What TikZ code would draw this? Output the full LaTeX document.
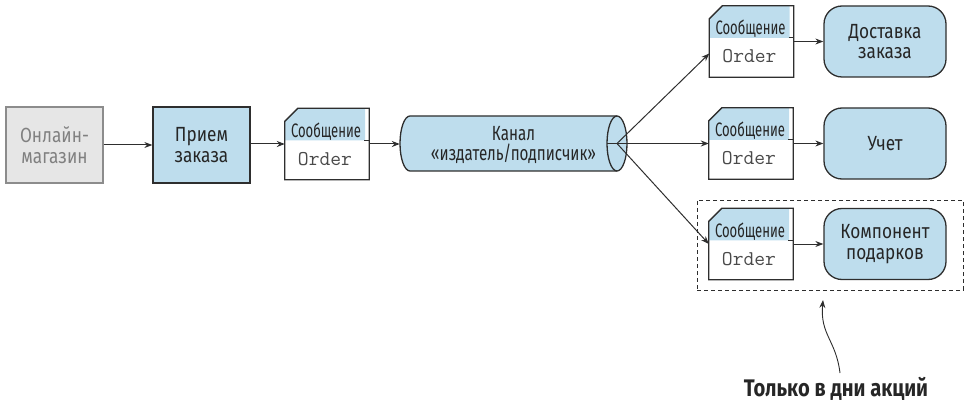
\documentclass[tikz,border=0pt]{standalone}
\usepackage{fontspec}
\setmainfont{Fira Sans}[FakeStretch=0.84]
\newfontfamily\hdrfont{Fira Sans}[FakeStretch=0.67]
\newfontfamily\chanfont{Fira Sans}[FakeStretch=0.74]
\usetikzlibrary{calc,arrows.meta}

\definecolor{boxblue}{HTML}{BEDDED}
\definecolor{edge}{HTML}{2E2E2E}
\definecolor{ink}{HTML}{262626}
\definecolor{shopfill}{HTML}{E6E6E6}
\definecolor{shopedge}{HTML}{8C8C8C}
\definecolor{shoptext}{HTML}{808080}
\definecolor{monotext}{HTML}{4A4A4A}

\tikzset{
  box/.style={draw=edge, line width=1.3pt, fill=boxblue, minimum width=97pt,
    minimum height=76pt, align=center, inner sep=0pt, text=ink,
    font=\fontsize{20.5}{20.5}\selectfont},
  shopbox/.style={box, draw=shopedge, fill=shopfill, text=shoptext},
  svc/.style={box, rounded corners=18pt, minimum width=122pt, minimum height=71pt},
  msgframe/.style={minimum width=84pt, minimum height=71pt, inner sep=0pt},
  hdrtext/.style={inner sep=0pt, anchor=base, text=ink,
    font=\hdrfont\fontsize{19.5}{19.5}\selectfont},
  monotxt/.style={inner sep=0pt, anchor=base, text=monotext,
    font=\ttfamily\fontsize{21}{21}\selectfont},
  flow/.style={draw=edge, line width=1pt, -{Stealth[length=8pt,width=6pt]}},
  outline/.style={draw=edge, line width=1.3pt},
  promo/.style={draw=edge, line width=1pt, dash pattern=on 4pt off 3pt,
    minimum width=266pt, minimum height=90pt, inner sep=0pt},
}

% a message: frame with clipped corner, blue header and body text
\newcommand\msgbox[2]{%
  \node[msgframe] (#1) at (#2) {};
  \fill[boxblue] ($(#1.north west)+(0,13)$) -- ($(#1.north west)+(13,0)$)
    -- ($(#1.north east)+(-4,0)$) -- ($(#1.north east)+(-4,32)$)
    -- ($(#1.north west)+(0,32)$) -- cycle;
  \draw[outline] ($(#1.north west)+(0,13)$) -- ($(#1.north west)+(13,0)$)
    -- (#1.north east) -- (#1.south east) -- (#1.south west) -- cycle;
  \draw[edge, line width=0.8pt] ($(#1.north east)+(-5,32)$) -- ($(#1.north east)+(0,32)$);
  \node[hdrtext] at ($(#1.north)+(-1,29)$) {Сообщение};
  \node[monotxt] at ($(#1.north)+(-2,57)$) {Order};
}

\begin{document}
\begin{tikzpicture}[x=1pt, y=-1pt]
  \useasboundingbox (0,0) rectangle (964,401);

  % left chain
  \node[shopbox] (shop) at (54.5,145) {Онлайн-\\магазин};
  \node[box] (take) at (201.5,145) {Прием\\заказа};
  \msgbox{m1}{327,144}

  % publish/subscribe channel drawn as a cylinder
  \fill[boxblue] (410,116) -- (617,116) arc[start angle=-90, end angle=90, x radius=10, y radius=27.5]
    -- (410,171) arc[start angle=90, end angle=270, x radius=10, y radius=27.5] -- cycle;
  \draw[outline] (410,116) -- (617,116)
    (617,171) -- (410,171) arc[start angle=90, end angle=270, x radius=10, y radius=27.5];
  \draw[outline] (617,143.5) ellipse[x radius=10, y radius=27.5];
  \node[minimum width=227pt, minimum height=55pt, inner sep=0pt, align=center, text=ink,
    font=\chanfont\fontsize{20.5}{20.5}\selectfont] (ch) at (513.5,145) {Канал\\«издатель/подписчик»};
  \coordinate (hub) at (617,143.5);
  \coordinate (hubleft) at (607,143.5);

  % subscribers
  \msgbox{mT}{751.5,41.5}
  \msgbox{mM}{751,143.5}
  \msgbox{mB}{751,244}
  \node[svc] (dT) at (885,41.5) {Доставка\\заказа};
  \node[svc] (dM) at (885,143.5) {Учет};
  \node[svc] (dB) at (885,244) {Компонент\\подарков};

  % promotion-only group and its note
  \node[promo] (grp) at (830,245) {};
  \node[inner sep=0pt, anchor=base, text=ink, font=\bfseries\fontsize{24}{26}\selectfont] (note) at (836,396) {Только в дни акций};
  \coordinate (noteTop) at (840,373);
  \coordinate (grpTip) at (823,300);

  % connectors
  \draw[flow] (shop) -- (take);
  \draw[flow] (take.east |- m1.west) -- (m1);
  \draw[flow] (m1.east) -- (ch.west |- m1.east);
  \draw[flow] (hub) -- ($(mT.west)+(0,12)$);
  \draw[flow] (hubleft) -- (mM.west);
  \draw[flow] (hub) -- (mB.west);
  \draw[flow] (mT) -- (dT);
  \draw[flow] (mM) -- (dM);
  \draw[flow] (mB) -- (dB);
  \draw[flow, line width=0.9pt] (noteTop) .. controls (836,340) and (820,335) .. (grpTip);
\end{tikzpicture}
\end{document}
